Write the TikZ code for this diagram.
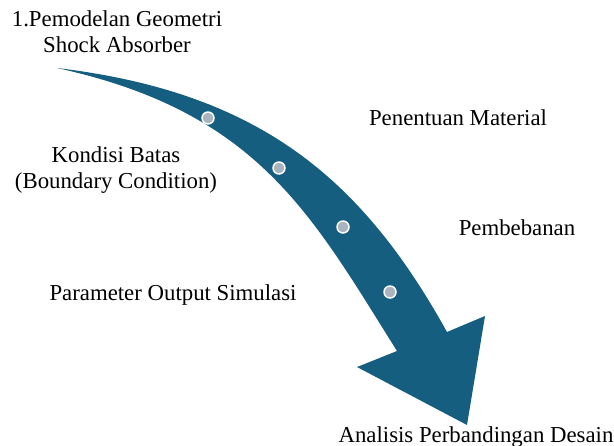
\documentclass[tikz,border=0pt]{standalone}
\usepackage{fontspec}
\setmainfont{Liberation Serif}
\definecolor{arrowblue}{RGB}{22,94,128}
\definecolor{dotgray}{RGB}{170,180,192}
\begin{document}
\begin{tikzpicture}[x=0.75pt,y=-0.75pt,
  lbl/.style={inner sep=0pt, font=\fontsize{17.1pt}{19.8pt}\selectfont, text=black, align=center},
  stepdot/.style={circle, fill=dotgray, draw=white, line width=1.1pt, minimum size=9pt, inner sep=0pt}]
\useasboundingbox (0,0) rectangle (614,446);
% curved arrow
\fill[arrowblue] (57,68) .. controls (258,92) and (361,177) .. (447,332)
  -- (485,316) -- (467,425) -- (357,367) -- (397,351)
  .. controls (311,214) and (258,112) .. (57,68) -- cycle;
% dots
\node[stepdot] (d1) at (208,118) {};
\node[stepdot] (d2) at (279,168) {};
\node[stepdot] (d3) at (343,227) {};
\node[stepdot] (d4) at (390,292) {};
% labels
\node[lbl] (t1) at (117,32) {1.Pemodelan Geometri\\Shock Absorber};
\node[lbl, anchor=base] (t2) at (458,125) {Penentuan Material};
\node[lbl] (t3) at (116,170) {Kondisi Batas\\(Boundary Condition)};
\node[lbl, anchor=base] (t4) at (517,235) {Pembebanan};
\node[lbl, anchor=base] (t5) at (173,300) {Parameter Output Simulasi};
\node[lbl, anchor=base] (t6) at (476,442) {Analisis Perbandingan Desain};
\end{tikzpicture}
\end{document}
